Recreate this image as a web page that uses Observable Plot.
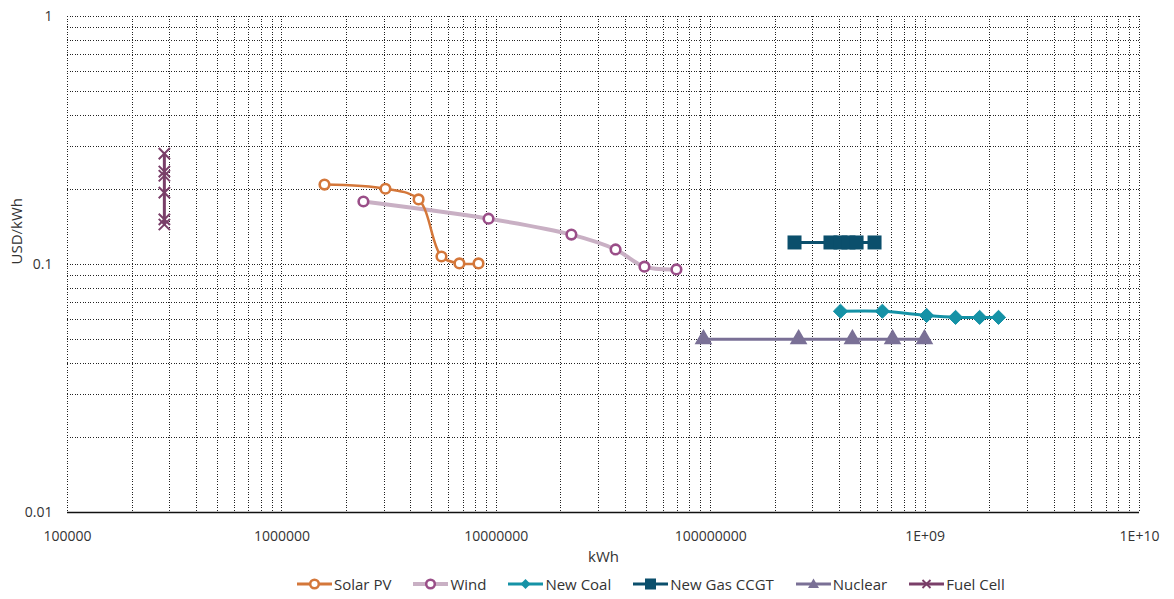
<!DOCTYPE html>
<html>
<head>
<meta charset="utf-8">
<script src="https://cdn.jsdelivr.net/npm/d3@7"></script>
<script src="https://cdn.jsdelivr.net/npm/@observablehq/plot@0.6"></script>
<style>
  html, body { margin: 0; padding: 0; background: #fff; }
  body { width: 1174px; height: 599px; position: relative; overflow: hidden; font-family: "Open Sans", sans-serif; }
  #chart { position: absolute; left: 0; top: 0; }
  #legend { position: absolute; left: 297px; top: 574px; display: flex; align-items: center; font-size: 15px; color: #333; white-space: nowrap; }
  .item { display: flex; align-items: center; margin-right: 22px; }
  .item svg { margin-right: 2px; }
</style>
</head>
<body>
<div id="chart"></div>
<div id="legend"></div>
<script>
// ---- Data ----
const solarX = [1.58e6, 3.04e6, 4.34e6, 5.55e6, 6.73e6, 8.26e6];
const solarY = [0.210, 0.202, 0.183, 0.1077, 0.101, 0.101];

const windX = [2.40e6, 9.2e6, 2.24e7, 3.6e7, 4.91e7, 6.92e7];
const windY = [0.1795, 0.153, 0.132, 0.115, 0.098, 0.0955];

const coalX = [4.03e8, 6.32e8, 1.016e9, 1.387e9, 1.796e9, 2.20e9];
const coalY = [0.0648, 0.0648, 0.0623, 0.0612, 0.0612, 0.0612];

const gasX = [2.46e8, 3.62e8, 4.03e8, 4.39e8, 4.79e8, 5.81e8];
const gasY = [0.1227, 0.1227, 0.1227, 0.1227, 0.1227, 0.1227];

const nuclearX = [9.25e7, 2.57e8, 4.58e8, 7.05e8, 9.93e8];
const nuclearY = [0.05, 0.05, 0.05, 0.05, 0.05];

const fuelX = [2.83e5, 2.83e5, 2.83e5, 2.83e5, 2.83e5, 2.83e5];
const fuelY = [0.280, 0.237, 0.228, 0.195, 0.152, 0.145];

const xTicks = [1e5, 1e6, 1e7, 1e8, 1e9, 1e10];
const xTickLabels = ["100000", "1000000", "10000000", "100000000", "1E+09", "1E+10"];
const yTicks = [0.01, 0.1, 1];
const yTickLabels = ["0.01", "0.1", "1"];

const seriesNames = ["Solar PV", "Wind", "New Coal", "New Gas CCGT", "Nuclear", "Fuel Cell"];

// ---- Build tables ----
const toRows = (xs, ys) => xs.map((x, i) => ({x, y: ys[i]}));
const solar = toRows(solarX, solarY);
const wind = toRows(windX, windY);
const coal = toRows(coalX, coalY);
const gas = toRows(gasX, gasY);
const nuclear = toRows(nuclearX, nuclearY);
const fuel = toRows(fuelX, fuelY);

// grid values
const xGrid = [];
for (let e = 5; e < 10; e++) for (let k = 1; k <= 9; k++) xGrid.push(k * Math.pow(10, e));
xGrid.push(1e10);
const yGrid = [];
for (let e = -2; e < 0; e++) for (let k = 1; k <= 9; k++) yGrid.push(+(k * Math.pow(10, e)).toPrecision(3));
yGrid.push(1);

const C = {
  solar: "#D4773A", wind: "#C9B0C4", windMark: "#9A4E88",
  coal: "#1592A6", gas: "#0B4F6C", nuclear: "#7A7096", fuel: "#7A3F69"
};

const chart = Plot.plot({
  width: 1174,
  height: 572,
  marginLeft: 67,
  marginRight: 35,
  marginTop: 16,
  marginBottom: 60,
  style: {fontFamily: "Open Sans, sans-serif", fontSize: "14px", color: "#333", background: "#fff"},
  x: {type: "log", domain: [1e5, 1e10]},
  y: {type: "log", domain: [0.01, 1]},
  marks: [
    Plot.ruleX(xGrid, {x: d => d, stroke: "#222", strokeDasharray: "1,1.6", strokeWidth: 1, shapeRendering: "crispEdges"}),
    Plot.ruleY(yGrid.filter(d => d > 0.01), {y: d => d, stroke: "#222", strokeDasharray: "1,1.6", strokeWidth: 1, shapeRendering: "crispEdges"}),
    Plot.ruleY([0.01], {stroke: "#111", strokeWidth: 1.6}),
    Plot.axisX({ticks: xTicks, tickFormat: (d) => xTickLabels[xTicks.indexOf(d)], tickSize: 0, tickPadding: 19, label: null, fontSize: 14}),
    Plot.axisY({ticks: yTicks, tickFormat: (d) => yTickLabels[yTicks.indexOf(d)], tickSize: 0, tickPadding: 15, label: null, fontSize: 14}),
    Plot.text(["kWh"], {frameAnchor: "bottom", dy: 49, fontSize: 15, fill: "#333"}),
    Plot.text(["USD/kWh"], {frameAnchor: "left", dx: -50, rotate: -90, fontSize: 15, fill: "#333"}),

    // Wind
    Plot.line(wind, {x: "x", y: "y", stroke: C.wind, strokeWidth: 4, curve: "catmull-rom"}),
    Plot.dot(wind, {x: "x", y: "y", r: 4.8, stroke: C.windMark, strokeWidth: 2.6, fill: "#fff"}),
    // Solar
    Plot.line(solar, {x: "x", y: "y", stroke: C.solar, strokeWidth: 2.5, curve: "catmull-rom"}),
    Plot.dot(solar, {x: "x", y: "y", r: 4.8, stroke: C.solar, strokeWidth: 2.6, fill: "#fff"}),
    // Gas
    Plot.line(gas, {x: "x", y: "y", stroke: C.gas, strokeWidth: 3}),
    Plot.dot(gas, {x: "x", y: "y", symbol: "square", r: 7.9, fill: C.gas}),
    // Coal
    Plot.line(coal, {x: "x", y: "y", stroke: C.coal, strokeWidth: 3, curve: "catmull-rom"}),
    Plot.dot(coal, {x: "x", y: "y", symbol: "diamond2", r: 6.4, fill: C.coal, stroke: C.coal, strokeWidth: 1}),
    // Nuclear
    Plot.line(nuclear, {x: "x", y: "y", stroke: C.nuclear, strokeWidth: 3}),
    Plot.dot(nuclear, {x: "x", y: "y", symbol: "triangle", r: 5.6, fill: C.nuclear, stroke: C.nuclear}),
    // Fuel cell
    Plot.line(fuel, {x: "x", y: "y", stroke: C.fuel, strokeWidth: 3}),
    Plot.dot(fuel, {x: "x", y: "y", symbol: "times", r: 5.2, stroke: C.fuel, strokeWidth: 2})
  ]
});
document.getElementById("chart").appendChild(chart);

// ---- Legend ----
const icons = [
  {line: C.solar, lw: 3, sym: "circle", stroke: C.solar, fill: "#fff"},
  {line: C.wind, lw: 4, sym: "circle", stroke: C.windMark, fill: "#fff"},
  {line: C.coal, lw: 3, sym: "diamond", stroke: C.coal, fill: C.coal},
  {line: C.gas, lw: 3, sym: "square", stroke: C.gas, fill: C.gas},
  {line: C.nuclear, lw: 3, sym: "triangle", stroke: C.nuclear, fill: C.nuclear},
  {line: C.fuel, lw: 3, sym: "times", stroke: C.fuel, fill: "none"}
];
const legend = document.getElementById("legend");
seriesNames.forEach((name, i) => {
  const ic = icons[i];
  let mark = "";
  if (ic.sym === "circle") mark = `<circle cx="17.5" cy="10" r="4.3" fill="${ic.fill}" stroke="${ic.stroke}" stroke-width="2.5"/>`;
  else if (ic.sym === "diamond") mark = `<path d="M17.5 5 L22.5 10 L17.5 15 L12.5 10Z" fill="${ic.fill}"/>`;
  else if (ic.sym === "square") mark = `<rect x="12" y="4.5" width="11" height="11" fill="${ic.fill}"/>`;
  else if (ic.sym === "triangle") mark = `<path d="M17.5 4.5 L23 14 L12 14Z" fill="${ic.fill}"/>`;
  else if (ic.sym === "times") mark = `<path d="M13.5 6 L21.5 14 M21.5 6 L13.5 14" stroke="${ic.stroke}" stroke-width="1.8"/>`;
  const item = document.createElement("div");
  item.className = "item";
  item.innerHTML = `<svg width="35" height="20"><line x1="0" y1="10" x2="35" y2="10" stroke="${ic.line}" stroke-width="${ic.lw}"/>${mark}</svg><span>${name}</span>`;
  legend.appendChild(item);
});
</script>
</body>
</html>
